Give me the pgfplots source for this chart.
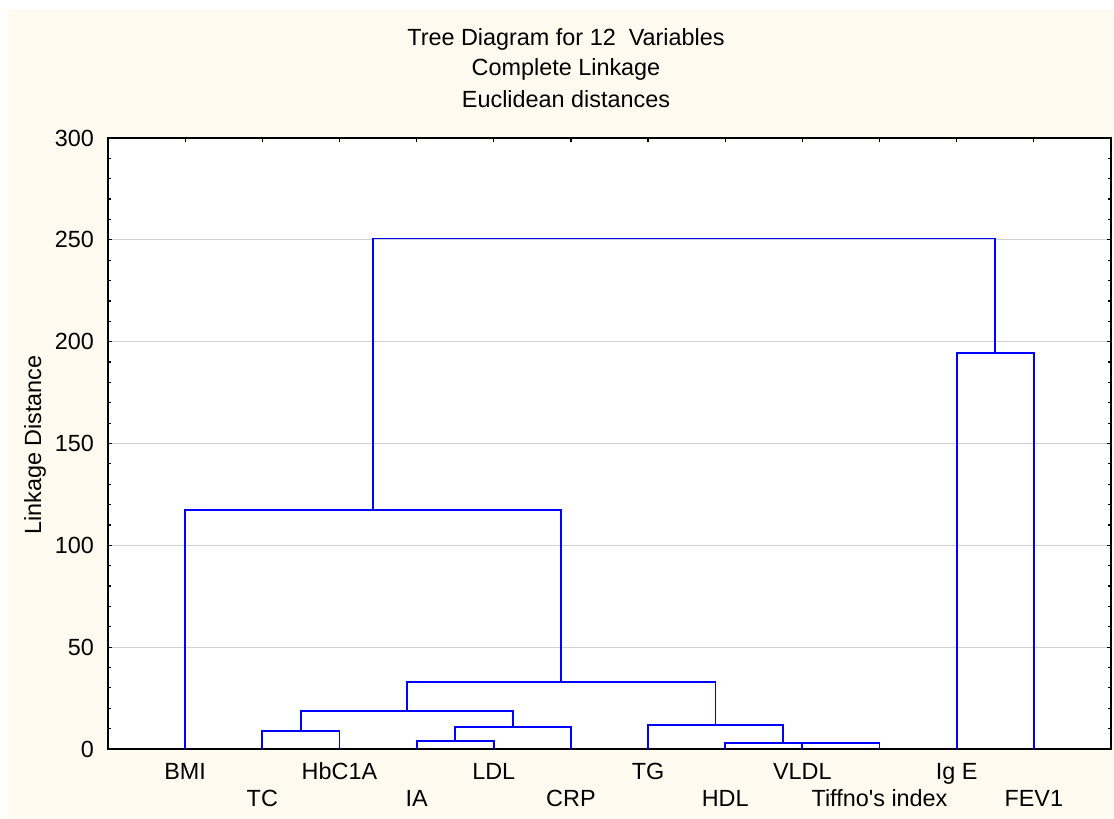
\documentclass[border=0pt]{standalone}
\usepackage{pgfplots}
\pgfplotsset{compat=1.18}
\usepackage{fontspec}
\setmainfont{Liberation Sans}
\definecolor{cream}{RGB}{255,251,240}
\tikzset{dg/.style={color=blue, line width=0.9pt, mark=none, solid}}
\begin{document}
\fontsize{11.7}{13}\selectfont
\begin{tikzpicture}
\fill[white] (-54pt,-35pt) rectangle (503pt,374.5pt);
\fill[cream] (-50.5pt,-35pt) rectangle (503pt,369.5pt);
\begin{axis}[
  at={(0,0)}, anchor=south west,
  scale only axis, width=501.5pt, height=305.5pt,
  xmin=0, xmax=13, ymin=0, ymax=300,
  axis background/.style={fill=white},
  ytick={0,50,...,300}, minor y tick num=4,
  ymajorgrids, major grid style={black!18, line width=0.5pt},
  xtick={1,3,5,7,9,11},
  xticklabels={BMI,HbC1A,LDL,TG,VLDL,Ig E},
  extra x ticks={2,4,6,8,10,12},
  extra x tick labels={TC,IA,CRP,HDL,Tiffno\textquotesingle s index,FEV1},
  extra x tick style={xticklabel style={yshift=-13.5pt}},
  xticklabel style={anchor=base, yshift=-15.5pt},
  yticklabel style={anchor=east, xshift=-3pt},
  /pgf/number format/assume math mode=true,
  tick align=inside, major tick length=2pt, minor tick length=1.5pt,
  tick style={black, line width=0.6pt},
  axis line style={line width=0.7pt},
  ylabel={Linkage Distance},
  ylabel style={at={(axis description cs:-0.0728,0.4975)}, anchor=center},
]
\addplot[dg] coordinates {(9,0) (9,2.8) (10,2.8) (10,0)};
\addplot[dg] coordinates {(8,0) (8,3.1) (9.5,3.1) (9.5,2.8)};
\addplot[dg] coordinates {(7,0) (7,11.7) (8.75,11.7) (8.75,3.1)};
\addplot[dg] coordinates {(2,0) (2,9) (3,9) (3,0)};
\addplot[dg] coordinates {(4,0) (4,4.1) (5,4.1) (5,0)};
\addplot[dg] coordinates {(4.5,4.1) (4.5,10.7) (6,10.7) (6,0)};
\addplot[dg] coordinates {(2.5,9) (2.5,18.8) (5.25,18.8) (5.25,10.7)};
\addplot[dg] coordinates {(3.875,18.8) (3.875,32.8) (7.875,32.8) (7.875,11.7)};
\addplot[dg] coordinates {(1,0) (1,117.5) (5.875,117.5) (5.875,32.8)};
\addplot[dg] coordinates {(11,0) (11,194.5) (12,194.5) (12,0)};
\addplot[dg] coordinates {(3.4375,117.5) (3.4375,250.7) (11.5,250.7) (11.5,194.5)};
\end{axis}
\node at (229pt,355pt) {Tree Diagram for 12\ \ Variables};
\node at (229pt,340pt) {Complete Linkage};
\node at (229pt,325pt) {Euclidean distances};
\end{tikzpicture}
\end{document}
